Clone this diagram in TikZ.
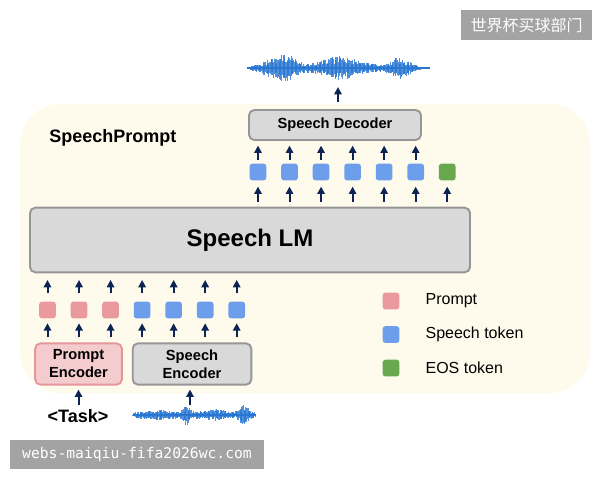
\documentclass[tikz,border=0pt]{standalone}
\usepackage{fontspec}
\setmainfont{Liberation Sans}
\newfontfamily\cjkfont{Noto Sans CJK SC}
\newfontfamily\markfont{DejaVu Sans Mono}
\usepackage{tikz}
\usetikzlibrary{positioning, arrows.meta, calc}
\definecolor{lmgray}{RGB}{217,217,217}
\definecolor{lmborder}{RGB}{150,150,150}
\definecolor{cream}{RGB}{254,251,236}
\definecolor{tokblue}{RGB}{109,158,235}
\definecolor{tokpink}{RGB}{234,153,158}
\definecolor{tokgreen}{RGB}{106,168,79}
\definecolor{pinkfill}{RGB}{245,204,206}
\definecolor{pinkborder}{RGB}{228,150,156}
\definecolor{arrownavy}{RGB}{12,36,84}
\definecolor{wavecol}{RGB}{38,118,210}
\definecolor{markgray}{RGB}{163,163,163}

\begin{document}
\begin{tikzpicture}[
    x=0.75pt, y=-0.75pt,
    block/.style={rectangle, rounded corners=4pt, draw=lmborder, line width=1.4pt, fill=lmgray, align=center, inner sep=0pt, font=\bfseries\fontsize{11}{13.5}\selectfont},
    token/.style={rectangle, rounded corners=2pt, minimum size=12.5pt, inner sep=0pt},
    arrow/.style={line width=1.5pt, draw=arrownavy, -{Triangle[length=5.5pt, width=5.5pt]}},
    wave/.style={draw=wavecol, line width=0.8pt, opacity=0.8},
    legend/.style={inner sep=0pt, font=\fontsize{12}{14}\selectfont},
    wmark/.style={fill=markgray, text=white, inner sep=0pt}
]
    \useasboundingbox (0,0) rectangle (600,480);
    \fill[cream, rounded corners=30pt] (20,104) rectangle (590,393);

    \node[anchor=west, inner sep=0pt, font=\bfseries\fontsize{13.5}{16}\selectfont] (title) at (49,138) {SpeechPrompt};

    \node[block, minimum width=330pt, minimum height=48.5pt, font=\bfseries\fontsize{18}{21}\selectfont] (lm) at (250,240) {Speech LM};
    \node[block, minimum width=129pt, minimum height=22.5pt] (dec) at (335,125) {Speech Decoder};
    \node[block, fill=pinkfill, draw=pinkborder, minimum width=65pt, minimum height=31pt] (penc) at (78.5,364) {Prompt\\Encoder};
    \node[block, minimum width=89pt, minimum height=31pt, right=6.75pt of penc] (senc) {Speech\\Encoder};

    % output tokens
    \node[token, fill=tokblue] (d1) at (258,172) {};
    \foreach \i [count=\j] in {2,...,6}
        \node[token, fill=tokblue, right=10.75pt of d\j] (d\i) {};
    \node[token, fill=tokgreen, right=10.75pt of d6] (d7) {};

    % input tokens
    \node[token, fill=tokpink] (p1) at (47.5,310) {};
    \foreach \i/\c [count=\j] in {2/tokpink, 3/tokpink, 4/tokblue, 5/tokblue, 6/tokblue, 7/tokblue}
        \node[token, fill=\c, right=10.75pt of p\j] (p\i) {};

    \foreach \i in {1,...,6}
        \draw[arrow, shorten <=2.8pt, shorten >=3.5pt] (d\i.north) -- (d\i.north |- dec.south);
    \foreach \i in {1,...,7}
        \draw[arrow, shorten <=3.4pt, shorten >=4.5pt] (lm.north -| d\i) -- (d\i.south);
    \foreach \i in {1,...,7}
        \draw[arrow, shorten <=6pt, shorten >=5pt] (p\i.north) -- (p\i.north |- lm.south);
    \foreach \i in {1,2,3}
        \draw[arrow, shorten <=3.75pt, shorten >=3.5pt] (penc.north -| p\i) -- (p\i.south);
    \foreach \i in {4,...,7}
        \draw[arrow, shorten <=3.75pt, shorten >=3.5pt] (senc.north -| p\i) -- (p\i.south);

    \node[inner sep=0pt, font=\bfseries\fontsize{13.5}{16}\selectfont] (task) at (78,416) {<Task>};
    \draw[arrow, shorten <=3pt, shorten >=3pt] (task.north -| penc) -- (penc.south);
    \coordinate (wbot) at (190,405);
    \draw[arrow, shorten >=3pt] (wbot) -- (wbot |- senc.south);

    \coordinate (wtop) at (338,87);
    \draw[arrow, shorten <=5pt] (wtop |- dec.north) -- (wtop);

    % waveforms
    \pgfmathsetseed{42}
    \draw[wavecol, line width=2pt] (247,68) -- (430,68);
    \foreach \xx in {248,248.8,...,430} {
        \pgfmathsetmacro\env{(4+10*exp(-((\xx-286)/12)^2)+8*exp(-((\xx-340)/20)^2)+7*exp(-((\xx-400)/10)^2)+4*exp(-((\xx-268)/8)^2))*min(1,(\xx-246)/10)*min(1,(432-\xx)/22)}
        \pgfmathsetmacro\amp{\env*(0.35+0.65*rnd)}
        \pgfmathsetmacro\ampb{\env*(0.35+0.65*rnd)}
        \draw[wave] (\xx,68-\amp) -- (\xx,68+\ampb);
    }
    \draw[wavecol, line width=1.8pt] (133,415) -- (256,415);
    \foreach \xx in {133,133.8,...,256} {
        \pgfmathsetmacro\env{(3.5+8*exp(-((\xx-187)/4)^2)+7*exp(-((\xx-244)/5)^2)+3*exp(-((\xx-215)/10)^2)+2*exp(-((\xx-160)/10)^2))*min(1,(\xx-131)/5)*min(1,(258-\xx)/4)}
        \pgfmathsetmacro\amp{\env*(0.35+0.65*rnd)}
        \pgfmathsetmacro\ampb{\env*(0.35+0.65*rnd)}
        \draw[wave] (\xx,415-\amp) -- (\xx,415+\ampb);
    }

    % legend
    \node[token, fill=tokpink] (lg1) at (391,301) {};
    \node[token, fill=tokblue, below=12.25pt of lg1] (lg2) {};
    \node[token, fill=tokgreen, below=12.25pt of lg2] (lg3) {};
    \node[legend, right=19.3pt of lg1] (lt1) {Prompt};
    \node[legend, right=19.3pt of lg2] (lt2) {Speech token};
    \node[legend, right=19.3pt of lg3] (lt3) {EOS token};

    % watermarks
    \node[wmark, minimum width=98pt, minimum height=22.5pt, font=\cjkfont\fontsize{12}{14}\selectfont] (wm1) at (526.5,25) {世界杯买球部门};
    \node[wmark, minimum width=190.5pt, minimum height=21.75pt, font=\markfont\fontsize{11}{13}\selectfont] (wm2) at (137,454.5) {webs-maiqiu-fifa2026wc.com};
\end{tikzpicture}
\end{document}
